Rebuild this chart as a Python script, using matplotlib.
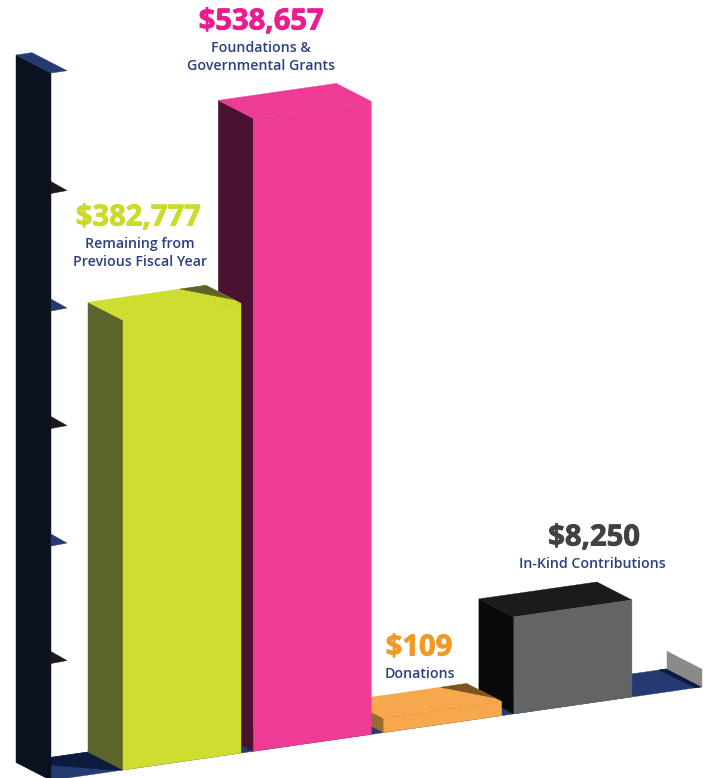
import matplotlib
matplotlib.use("Agg")
import matplotlib.pyplot as plt
from matplotlib.patches import Polygon
import matplotlib.patheffects as pe

# Data (heights are what the picture draws, the printed labels differ for the small bars)
categories = ["Remaining from\nPrevious Fiscal Year", "Foundations &\nGovernmental Grants", "Donations", "In-Kind Contributions"]
amount_labels = ["$382,777", "$538,657", "$109", "$8,250"]
drawn_heights = [382777, 538657, 12000, 82500]
tick_values = [100000, 200000, 300000, 400000, 500000]

front_colors = ["#cfdd30", "#ee3b95", "#f7a84c", "#636466"]
top_colors = ["#cfdd30", "#ee3b95", "#f7a84c", "#1c1a1b"]
side_colors = ["#5c6429", "#4a1230", "#9a6a2b", "#0b0a0a"]
shadow_colors = ["#5e6428", None, "#7a5520", None]
amount_colors = ["#cbdb2a", "#ec1c8e", "#f29a26", "#414042"]
label_color = "#2b4080"
floor_color = "#243a70"
wall_color = "#0a1220"

# Scene scales, in pixels
PX_PER_UNIT = 117.5 / 100000
BASE_SLOPE = -0.1436
BAR_WIDTH = 118
DEPTH_X, DEPTH_Y = 35, 18


def project(x, value=0, depth=0):
    y = 770 + BASE_SLOPE * (x - 123) - value * PX_PER_UNIT
    return (x - DEPTH_X * depth, y - DEPTH_Y * depth)


def bar_x(i):
    return 123 + 130.3 * i


def poly(ax, pts, color):
    ax.add_patch(Polygon(pts, closed=True, facecolor=color, edgecolor=color, linewidth=0.3))


def draw_bar(ax, i):
    x0 = bar_x(i)
    x1 = x0 + BAR_WIDTH
    h = drawn_heights[i]
    poly(ax, [project(x0, 0, 0), project(x0, 0, 1), project(x0, h, 1), project(x0, h, 0)], side_colors[i])
    poly(ax, [project(x0, h, 0), project(x0, h, 1), project(x1, h, 1), project(x1, h, 0)], top_colors[i])
    if shadow_colors[i]:
        poly(ax, [project(x0 + 92, h, 1), project(x1, h, 1), project(x1, h, 0.2)], shadow_colors[i])
    poly(ax, [project(x0, 0, 0), project(x1, 0, 0), project(x1, h, 0), project(x0, h, 0)], front_colors[i])


def main():
    fig = plt.figure(figsize=(7.10, 7.78), dpi=100)
    ax = fig.add_axes([0, 0, 1, 1])
    ax.set_xlim(0, 710)
    ax.set_ylim(778, 0)
    ax.axis("off")

    wall_x = 51
    floor_end = 702
    wall_top = 602000

    # floor and its shadows
    poly(ax, [project(wall_x, 0, 0), project(floor_end, 0, 0), project(floor_end, 0, 1), project(wall_x, 0, 1)], floor_color)
    poly(ax, [project(wall_x, 0, 1), project(bar_x(0), 0, 1), project(bar_x(0), 0, 0), project(bar_x(0) - 11, 0, 0.1)], "#0d1b3d")
    poly(ax, [project(floor_end - 8, 0, 1), project(floor_end, 0, 1), project(floor_end, 0, 0), project(floor_end - 7, 0, 0)], "#0d1b3d")

    # grey end wall on the right
    poly(ax, [project(floor_end, 0, 0), project(floor_end, 15000, 0), project(floor_end, 15000, 1), project(floor_end, 0, 1)], "#8a8a8a")

    # left wall, cap and tick marks
    poly(ax, [project(wall_x, 0, 0), project(wall_x, 0, 1), project(wall_x, wall_top, 1), project(wall_x, wall_top, 0)], wall_color)
    poly(ax, [project(wall_x, wall_top, 0), project(wall_x + 16, wall_top, 0), project(wall_x + 16, wall_top, 1), project(wall_x, wall_top, 1)], floor_color)
    for n, v in enumerate(tick_values):
        tip = project(wall_x + 16, v, 0)
        color = floor_color if n % 2 else "#1a1a1a"
        poly(ax, [(wall_x, tip[1] - 9), tip, (wall_x, tip[1] + 3)], color)

    # back to front so the nearer bars cover the sides behind them
    for i in reversed(range(len(categories))):
        draw_bar(ax, i)

    # labels
    amount_pos = [(138, 218), (261, 22), (419, 648), (594, 538)]
    label_pos = [(140, 253), (261, 57), (420, 674), (592, 564)]
    for i in range(len(categories)):
        t = ax.text(amount_pos[i][0], amount_pos[i][1], amount_labels[i], color=amount_colors[i], family="Open Sans",
                    weight="bold", fontsize=21, ha="center", va="center")
        t.set_path_effects([pe.withStroke(linewidth=0.6, foreground=amount_colors[i])])
        ax.text(label_pos[i][0], label_pos[i][1], categories[i], color=label_color, family="Open Sans",
                weight="semibold", fontsize=10.2, ha="center", va="center", linespacing=1.32)

    fig.savefig("out.png", dpi=100)


if __name__ == "__main__":
    main()
